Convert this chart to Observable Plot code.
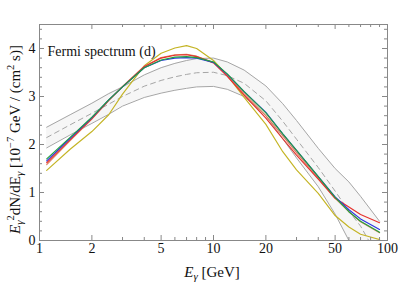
<!DOCTYPE html>
<html><head><meta charset="utf-8">
<script src="https://cdn.jsdelivr.net/npm/d3@7"></script>
<script src="https://cdn.jsdelivr.net/npm/@observablehq/plot@0.6"></script>
<style>body{margin:0;background:#fff}</style>
</head><body><div id="chart"></div>
<script>
// ---- data ----
const energy    = [1.1, 1.5, 2, 2.5, 3, 4, 5, 6, 7, 8, 10, 12, 15, 20, 25, 30, 40, 50, 60, 70, 90];
const bandUpper = [2.36, 2.62, 2.86, 3.06, 3.20, 3.45, 3.60, 3.69, 3.75, 3.79, 3.80, 3.72, 3.55, 3.22, 2.85, 2.50, 1.92, 1.50, 1.22, 0.92, 0.40];
const bandLower = [1.93, 2.20, 2.44, 2.63, 2.80, 2.98, 3.07, 3.13, 3.17, 3.20, 3.21, 3.15, 3.00, 2.60, 2.12, 1.72, 1.12, 0.55, 0.00, -0.50, -1.20];
const bandMid   = [2.145, 2.41, 2.65, 2.84, 3.00, 3.215, 3.335, 3.41, 3.46, 3.495, 3.505, 3.435, 3.275, 2.91, 2.485, 2.11, 1.52, 1.03, 0.61, 0.30, -0.40];
const yellowVals = [1.46, 1.90, 2.27, 2.62, 3.05, 3.64, 3.90, 4.01, 4.06, 4.00, 3.75, 3.44, 2.98, 2.42, 1.85, 1.47, 0.98, 0.52, 0.28, 0.13, 0.02];
const orangeVals = [1.58, 2.08, 2.53, 2.92, 3.21, 3.63, 3.81, 3.87, 3.88, 3.84, 3.71, 3.44, 3.06, 2.60, 2.18, 1.83, 1.30, 0.88, 0.60, 0.39, 0.16];
const redVals    = [1.62, 2.10, 2.54, 2.92, 3.20, 3.62, 3.80, 3.86, 3.87, 3.83, 3.70, 3.42, 3.03, 2.55, 2.12, 1.78, 1.28, 0.88, 0.70, 0.54, 0.37];
const blueVals   = [1.66, 2.13, 2.56, 2.93, 3.20, 3.60, 3.75, 3.80, 3.81, 3.80, 3.71, 3.46, 3.10, 2.67, 2.22, 1.88, 1.33, 0.91, 0.64, 0.45, 0.23];
const greenVals  = [1.70, 2.15, 2.57, 2.93, 3.20, 3.60, 3.76, 3.82, 3.83, 3.81, 3.72, 3.47, 3.10, 2.66, 2.22, 1.88, 1.33, 0.90, 0.60, 0.40, 0.17];
const seriesNames  = ["yellow", "orange", "red", "blue", "green"];
const seriesColors = ["#c4b424", "#e0805c", "#e5302c", "#2a36e0", "#22a040"];
const seriesValues = [yellowVals, orangeVals, redVals, blueVals, greenVals];
const xMajor = [1, 2, 5, 10, 20, 50, 100];
const xMinor = [3, 4, 6, 7, 8, 9, 30, 40, 60, 70, 80, 90];
const yMajor = [0, 1, 2, 3, 4];
const yMinor = [0.2,0.4,0.6,0.8,1.2,1.4,1.6,1.8,2.2,2.4,2.6,2.8,3.2,3.4,3.6,3.8,4.2,4.4];
const titleText = ["Fermi spectrum (d)"];

// ---- layout ----
const W = 409, H = 283, mL = 39, mR = 22, mT = 24, mB = 43;
const innerW = W - mL - mR, innerH = H - mT - mB;
const majLen = 5, minLen = 3;

const band = energy.map((e, i) => ({E: e, lo: bandLower[i], hi: bandUpper[i], mid: bandMid[i]}));
const lineMarks = seriesNames.map((n, k) =>
  Plot.line(energy.map((e, i) => ({E: e, v: seriesValues[k][i]})),
    {x: "E", y: "v", stroke: seriesColors[k], strokeWidth: 1.15, clip: true}));

const tickStroke = "#888";
const chart = Plot.plot({
  width: W, height: H,
  marginLeft: mL, marginRight: mR, marginTop: mT, marginBottom: mB,
  x: {type: "log", domain: [1, 100]},
  y: {domain: [0, 4.5]},
  style: {fontFamily: "Liberation Serif", fontSize: "14px", background: "white", color: "#111"},
  marks: [
    Plot.areaY(band, {x: "E", y1: "lo", y2: "hi", fill: "#f6f6f6", clip: true}),
    Plot.line(band, {x: "E", y: "hi", stroke: "#a6a6a6", strokeWidth: 1, clip: true}),
    Plot.line(band, {x: "E", y: "lo", stroke: "#a6a6a6", strokeWidth: 1, clip: true}),
    Plot.line(band, {x: "E", y: "mid", stroke: "#a6a6a6", strokeWidth: 1, strokeDasharray: "5,4", clip: true}),
    ...lineMarks,
    // inward frame ticks
    Plot.ruleX(xMajor, {x: d => d, insetTop: innerH - majLen, stroke: tickStroke}),
    Plot.ruleX(xMajor, {x: d => d, insetBottom: innerH - majLen, stroke: tickStroke}),
    Plot.ruleX(xMinor, {x: d => d, insetTop: innerH - minLen, stroke: tickStroke}),
    Plot.ruleX(xMinor, {x: d => d, insetBottom: innerH - minLen, stroke: tickStroke}),
    Plot.ruleY(yMajor, {y: d => d, insetRight: innerW - majLen, stroke: tickStroke}),
    Plot.ruleY(yMajor, {y: d => d, insetLeft: innerW - majLen, stroke: tickStroke}),
    Plot.ruleY(yMinor, {y: d => d, insetRight: innerW - minLen, stroke: tickStroke}),
    Plot.ruleY(yMinor, {y: d => d, insetLeft: innerW - minLen, stroke: tickStroke}),
    Plot.axisX({ticks: xMajor, tickSize: 0, tickPadding: 3, tickFormat: d => String(d), label: null, fontSize: 14}),
    Plot.axisY({ticks: yMajor, tickSize: 0, tickPadding: 4, tickFormat: d => String(d), label: null, fontSize: 14}),
    Plot.frame({stroke: "#888", strokeWidth: 1}),
    Plot.text(titleText, {frameAnchor: "top-left", dx: 8, dy: 22, textAnchor: "start", fontSize: 14, fill: "#111"})
  ]
});
document.getElementById("chart").append(chart);

// ---- axis titles with italics / sub- and superscripts ----
function richText(sel, parts) {
  let prev = 0;
  parts.forEach(p => {
    const shift = p.shift || 0;
    const t = sel.append("tspan").text(p.t).attr("dy", shift - prev);
    if (p.it) t.attr("font-style", "italic");
    if (p.size) t.attr("font-size", p.size);
    prev = shift;
  });
}
const svg = d3.select(chart);
const xt = svg.append("text")
  .attr("x", 212).attr("y", 277).attr("text-anchor", "middle")
  .attr("font-family", "Liberation Serif").attr("font-size", 15).attr("fill", "#111");
richText(xt, [{t: "E", it: true}, {t: "γ", it: true, shift: 3, size: 11}, {t: " [GeV]"}]);

const yt = svg.append("text")
  .attr("transform", "translate(20,139.5) rotate(-90)").attr("text-anchor", "middle")
  .attr("font-family", "Liberation Serif").attr("font-size", 15).attr("fill", "#111");
richText(yt, [
  {t: "E", it: true}, {t: "γ", it: true, shift: 3, size: 11}, {t: "2", shift: -6, size: 10.5},
  {t: "dN/dE"}, {t: "γ", it: true, shift: 3, size: 11}, {t: " [10"}, {t: "−7", shift: -6, size: 10.5},
  {t: " GeV / (cm"}, {t: "2", shift: -6, size: 10.5}, {t: " s)]"}
]);
</script>
</body></html>
